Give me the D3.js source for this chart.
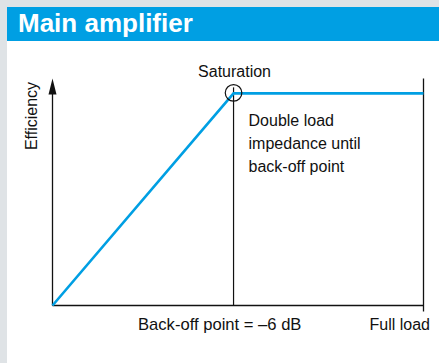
<!DOCTYPE html>
<html>
<head>
<meta charset="utf-8">
<script src="https://cdn.jsdelivr.net/npm/d3@7/dist/d3.min.js"></script>
<style>
  html, body { margin: 0; padding: 0; background: #dfe3e6; }
  svg { display: block; }
  text { font-family: "Liberation Sans", Arial, Helvetica, sans-serif; }
</style>
</head>
<body>
<svg id="chart" width="439" height="363"></svg>
<script>
// Efficiency of the main amplifier versus output load (relative amplitude)
const loadLevels = [0, 0.488, 1];        // 0 = off, 0.488 = back-off point, 1 = full load
const efficiency = [0, 1, 1];            // relative efficiency, saturates at back-off point
const backOffLoad = 0.488;
const tickLabels = ["Back-off point = \u20136 dB", "Full load"];
const notes = ["Double load", "impedance until", "back-off point"];

const svg = d3.select("#chart");
const W = 439, H = 363;

// Panel background and header bar
svg.append("rect").attr("x", 0).attr("y", 0).attr("width", W).attr("height", H).attr("fill", "#dfe3e6");
svg.append("rect").attr("x", 7).attr("y", 7).attr("width", W - 7).attr("height", H - 7).attr("fill", "#ffffff");
svg.append("rect").attr("x", 7).attr("y", 7).attr("width", W - 7).attr("height", 34).attr("fill", "#009fe3");
svg.append("text").attr("x", 18).attr("y", 32)
  .attr("fill", "#ffffff").attr("font-size", 26).attr("font-weight", "bold")
  .text("Main amplifier");

const x = d3.scaleLinear().domain([0, 1]).range([52.5, 423.5]);
const y = d3.scaleLinear().domain([0, 1.07]).range([305.5, 78.5]);

const ink = "#111111";

// Y axis with arrow head
svg.append("line")
  .attr("x1", x(0)).attr("x2", x(0))
  .attr("y1", y(0)).attr("y2", y(1.07) + 8)
  .attr("stroke", ink).attr("stroke-width", 1.3);
svg.append("path")
  .attr("d", `M${x(0)},${y(1.07)} L${x(0) - 4},${y(1.07) + 16} L${x(0) + 4},${y(1.07) + 16} Z`)
  .attr("fill", ink);

// X axis, right boundary at full load, and tick below it
svg.append("line")
  .attr("x1", x(0)).attr("x2", x(1))
  .attr("y1", y(0)).attr("y2", y(0))
  .attr("stroke", ink).attr("stroke-width", 1.3);
svg.append("line")
  .attr("x1", x(1)).attr("x2", x(1))
  .attr("y1", y(1.07)).attr("y2", y(0) + 6)
  .attr("stroke", ink).attr("stroke-width", 1.3);

// Back-off point marker line
svg.append("line")
  .attr("x1", x(backOffLoad)).attr("x2", x(backOffLoad))
  .attr("y1", y(1) - 6).attr("y2", y(0))
  .attr("stroke", ink).attr("stroke-width", 1.2);

// Efficiency curve
const line = d3.line().x((d, i) => x(loadLevels[i])).y(d => y(d));
svg.append("path")
  .datum(efficiency)
  .attr("d", line)
  .attr("fill", "none")
  .attr("stroke", "#009fe3")
  .attr("stroke-width", 2.6)
  .attr("stroke-linejoin", "miter");

// Saturation circle
svg.append("circle")
  .attr("cx", x(backOffLoad)).attr("cy", y(1) - 0.5).attr("r", 8.3)
  .attr("fill", "none").attr("stroke", ink).attr("stroke-width", 1.2);

// Labels
svg.append("text")
  .attr("x", x(backOffLoad) + 1).attr("y", 77)
  .attr("text-anchor", "middle").attr("font-size", 16).attr("fill", ink)
  .text("Saturation");

svg.append("g").selectAll("text")
  .data(notes).join("text")
  .attr("x", x(backOffLoad) + 15)
  .attr("y", (d, i) => 126 + i * 22.9)
  .attr("font-size", 16).attr("fill", ink)
  .text(d => d);

svg.append("text")
  .attr("transform", "translate(37,116) rotate(-90)")
  .attr("text-anchor", "middle").attr("font-size", 16).attr("fill", ink)
  .text("Efficiency");

svg.append("text")
  .attr("x", 138).attr("y", 330)
  .attr("font-size", 16.6).attr("fill", ink)
  .text(tickLabels[0]);
svg.append("text")
  .attr("x", 430).attr("y", 330)
  .attr("text-anchor", "end").attr("font-size", 16).attr("fill", ink)
  .text(tickLabels[1]);
</script>
</body>
</html>
